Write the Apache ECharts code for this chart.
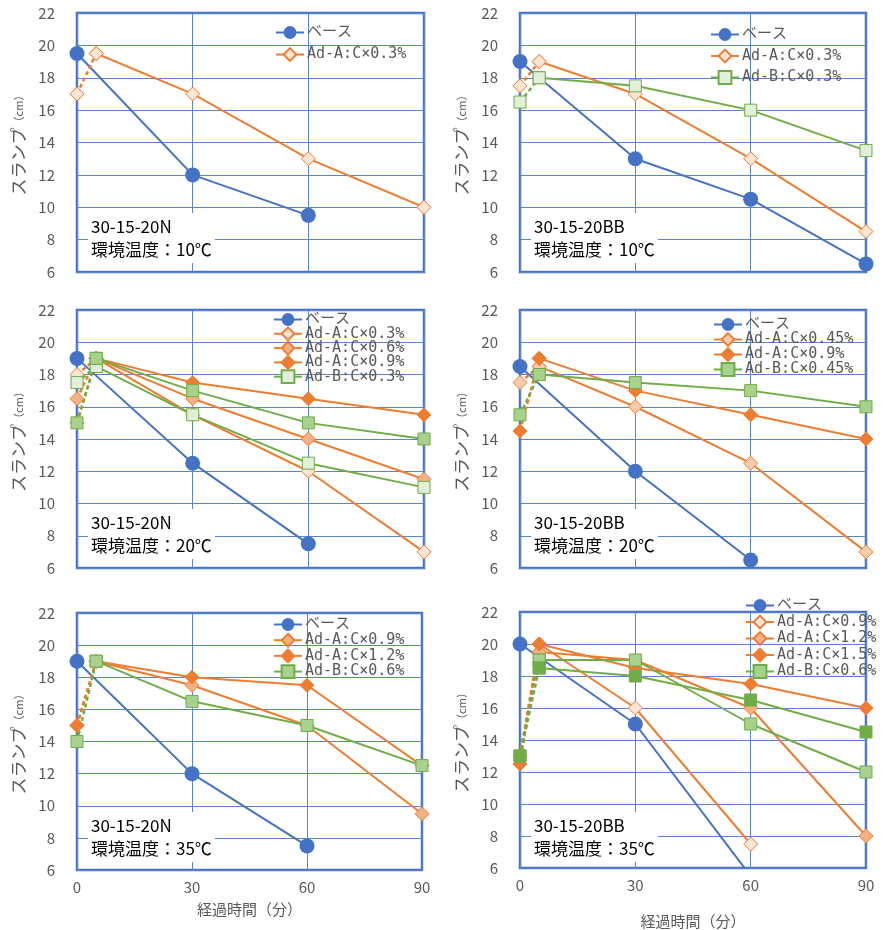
<!DOCTYPE html>
<html>
<head>
<meta charset="utf-8">
<script src="https://cdn.jsdelivr.net/npm/echarts@6/dist/echarts.min.js"></script>
<style>
html, body { margin: 0; padding: 0; background: #fff; }
#main { width: 886px; height: 930px; }
</style>
</head>
<body>
<div id="main"></div>
<script>
// 経過時間（分）
var tAll = [0, 5, 30, 60, 90];
var tBase = [0, 30, 60, 90];

// 30-15-20N 10℃
var n10Base = [19.5, 12, 9.5];
var n10A03 = [17, 19.5, 17, 13, 10];
// 30-15-20BB 10℃
var bb10Base = [19, 13, 10.5, 6.5];
var bb10A03 = [17.5, 19, 17, 13, 8.5];
var bb10B03 = [16.5, 18, 17.5, 16, 13.5];
// 30-15-20N 20℃
var n20Base = [19, 12.5, 7.5];
var n20A03 = [18, 19, 15.5, 12, 7];
var n20A06 = [16.5, 19, 16.5, 14, 11.5];
var n20A09 = [15, 19, 17.5, 16.5, 15.5];
var n20B03 = [17.5, 18.5, 15.5, 12.5, 11];
var n20Bx = [15, 19, 17, 15, 14];      // 凡例なし
// 30-15-20BB 20℃
var bb20Base = [18.5, 12, 6.5];
var bb20A045 = [17.5, 18.5, 16, 12.5, 7];
var bb20A09 = [14.5, 19, 17, 15.5, 14];
var bb20B045 = [15.5, 18, 17.5, 17, 16];
// 30-15-20N 35℃
var n35Base = [19, 12, 7.5];
var n35A09 = [15, 19, 17.5, 15, 9.5];
var n35A12 = [15, 19, 18, 17.5, 12.5];
var n35B06 = [14, 19, 16.5, 15, 12.5];
// 30-15-20BB 35℃
var bb35Base = [20, 15, 5.5];
var bb35A09 = [13, 20, 16, 7.5];
var bb35A12 = [13, 19.5, 19, 16, 8];
var bb35A15 = [12.5, 20, 18.5, 17.5, 16];
var bb35B06 = [13, 19, 19, 15, 12];
var bb35Bx = [13, 18.5, 18, 16.5, 14.5];  // 凡例なし

var BLUE = '#4472C4', ORANGE = '#ED7D31', GREEN = '#70AD47';
var O_LIGHT = '#FBE5D6', O_MID = '#F8CBAD', O_MED = '#F4B183';
var G_LIGHT = '#E2F0D9', G_MED = '#A9D18E';
var FONT = "'Noto Sans CJK JP', sans-serif";
var MONO = "'DejaVu Sans Mono', 'Noto Sans CJK JP', monospace";

var panels = [
    {key: 'p1', grid: {left: 77, top: 13, width: 347, height: 259}, base: n10Base,
     adds: [['Ad-A:C×0.3%', n10A03, 'A', O_LIGHT, true]],
     label: '30-15-20N\n環境温度：10℃', lg: {left: 275, top: 25, gap: 7}, bottom: false},
    {key: 'p2', grid: {left: 520, top: 13, width: 346, height: 259}, base: bb10Base,
     adds: [['Ad-A:C×0.3%', bb10A03, 'A', O_LIGHT, true], ['Ad-B:C×0.3%', bb10B03, 'B', G_LIGHT, true]],
     label: '30-15-20BB\n環境温度：10℃', lg: {left: 710, top: 27, gap: 6.5}, bottom: false},
    {key: 'p3', grid: {left: 77, top: 310, width: 347, height: 258}, base: n20Base,
     adds: [['Ad-A:C×0.3%', n20A03, 'A', O_LIGHT, true], ['Ad-A:C×0.6%', n20A06, 'A', O_MED, true],
            ['Ad-A:C×0.9%', n20A09, 'A', ORANGE, true], ['Ad-B:C×0.3%', n20B03, 'B', G_LIGHT, true],
            ['Ad-B:x', n20Bx, 'B', G_MED, false]],
     label: '30-15-20N\n環境温度：20℃', lg: {left: 273, top: 312, gap: -0.7}, bottom: false},
    {key: 'p4', grid: {left: 520, top: 310, width: 346, height: 258}, base: bb20Base,
     adds: [['Ad-A:C×0.45%', bb20A045, 'A', O_MID, true], ['Ad-A:C×0.9%', bb20A09, 'A', ORANGE, true],
            ['Ad-B:C×0.45%', bb20B045, 'B', G_MED, true]],
     label: '30-15-20BB\n環境温度：20℃', lg: {left: 713, top: 317, gap: 0}, bottom: false},
    {key: 'p5', grid: {left: 77, top: 613, width: 345, height: 257}, base: n35Base,
     adds: [['Ad-A:C×0.9%', n35A09, 'A', O_MED, true], ['Ad-A:C×1.2%', n35A12, 'A', ORANGE, true],
            ['Ad-B:C×0.6%', n35B06, 'B', G_MED, true]],
     label: '30-15-20N\n環境温度：35℃', lg: {left: 273, top: 617, gap: 0.7}, bottom: true, nameGap: 32},
    {key: 'p6', grid: {left: 520, top: 612, width: 346, height: 257}, base: bb35Base,
     adds: [['Ad-A:C×0.9%', bb35A09, 'A', O_LIGHT, true], ['Ad-A:C×1.2%', bb35A12, 'A', O_MED, true],
            ['Ad-A:C×1.5%', bb35A15, 'A', ORANGE, true], ['Ad-B:C×0.6%', bb35B06, 'B', G_MED, true],
            ['Ad-B:x', bb35Bx, 'B', GREEN, false]],
     label: '30-15-20BB\n環境温度：35℃', lg: {left: 745, top: 598, gap: 1.5}, bottom: true, nameGap: 46}
];

function zip(xs, ys) {
    var res = [];
    for (var i = 0; i < ys.length; i++) res.push([xs[i], ys[i]]);
    return res;
}

function markStyle(kind, fill) {
    var c = kind == 'A' ? ORANGE : GREEN;
    return {
        symbol: kind == 'A' ? 'diamond' : 'rect',
        symbolSize: kind == 'A' ? 14 : 12,
        itemStyle: {color: fill, borderColor: c, borderWidth: 1},
        lineStyle: {color: c, width: 2}
    };
}

var grids = [], xAxes = [], yAxes = [], series = [], legends = [], titles = [];

panels.forEach(function (p, i) {
    grids.push(Object.assign({show: true, borderColor: BLUE, borderWidth: 2.5, backgroundColor: '#fff'}, p.grid));
    xAxes.push({
        type: 'value', gridIndex: i, min: 0, max: 90, interval: 30,
        axisLine: {show: false}, axisTick: {show: false},
        axisLabel: {show: p.bottom, color: '#595959', fontSize: 15, fontFamily: FONT, margin: 10},
        splitLine: {show: true, lineStyle: {color: '#5B84CF', width: 1}},
        name: p.bottom ? '経過時間（分）' : '', nameLocation: 'middle', nameGap: p.nameGap || 30,
        nameTextStyle: {color: '#595959', fontSize: 15, fontFamily: FONT}
    });
    yAxes.push({
        type: 'value', gridIndex: i, min: 6, max: 22, interval: 2,
        axisLine: {show: false}, axisTick: {show: false},
        axisLabel: {color: '#595959', fontSize: 15, fontFamily: FONT, margin: 22},
        splitLine: {show: true, lineStyle: {color: '#5B84CF', width: 1}},
        name: '{a|スランプ}{b|（cm）}', nameLocation: 'middle', nameGap: 50,
        nameTextStyle: {color: '#595959', fontFamily: FONT,
            rich: {a: {fontSize: 17, fontFamily: FONT, color: '#595959'},
                   b: {fontSize: 11, fontFamily: FONT, color: '#595959'}}}
    });

    var legendNames = [p.key + '|ベース'];
    series.push({
        name: p.key + '|ベース', type: 'line', xAxisIndex: i, yAxisIndex: i,
        data: zip(tBase, p.base), symbol: 'circle', symbolSize: 15,
        itemStyle: {color: BLUE}, lineStyle: {color: BLUE, width: 2}
    });
    p.adds.forEach(function (a, j) {
        var st = markStyle(a[2], a[3]);
        var pts = zip(tAll, a[1]);
        var name = p.key + '|' + a[0];
        if (a[4]) legendNames.push(name);
        // 0→5分は破線
        series.push(Object.assign({
            name: p.key + '|dash' + j, type: 'line', xAxisIndex: i, yAxisIndex: i,
            data: pts.slice(0, 2)
        }, st, {lineStyle: {color: st.lineStyle.color, width: 2.5, type: [4, 3]}}));
        series.push(Object.assign({
            name: name, type: 'line', xAxisIndex: i, yAxisIndex: i,
            data: pts.slice(1)
        }, st));
    });

    legends.push({
        orient: 'vertical', left: p.lg.left, top: p.lg.top, itemGap: p.lg.gap,
        itemWidth: 28, itemHeight: 16, padding: 0,
        data: legendNames,
        formatter: function (n) { return n.split('|')[1]; },
        textStyle: {fontFamily: MONO, fontSize: 15, color: '#595959', lineHeight: 14, padding: [0, 0, 0, -2]}
    });

    var labelTop = [213, 213, 509, 509, 812, 812][i];
    titles.push({
        text: p.label, left: p.grid.left + 11, top: labelTop,
        padding: [2, 3], backgroundColor: '#fff',
        textStyle: {fontSize: 17, fontWeight: 'normal', color: '#000', lineHeight: 23, fontFamily: FONT}
    });
});

var chart = echarts.init(document.getElementById('main'));
chart.setOption({
    backgroundColor: '#fff',
    animation: false,
    title: titles,
    grid: grids,
    xAxis: xAxes,
    yAxis: yAxes,
    legend: legends,
    series: series.map(function (s) {
        s.emphasis = {disabled: true};
        s.z = 3;
        return s;
    })
});
</script>
</body>
</html>
